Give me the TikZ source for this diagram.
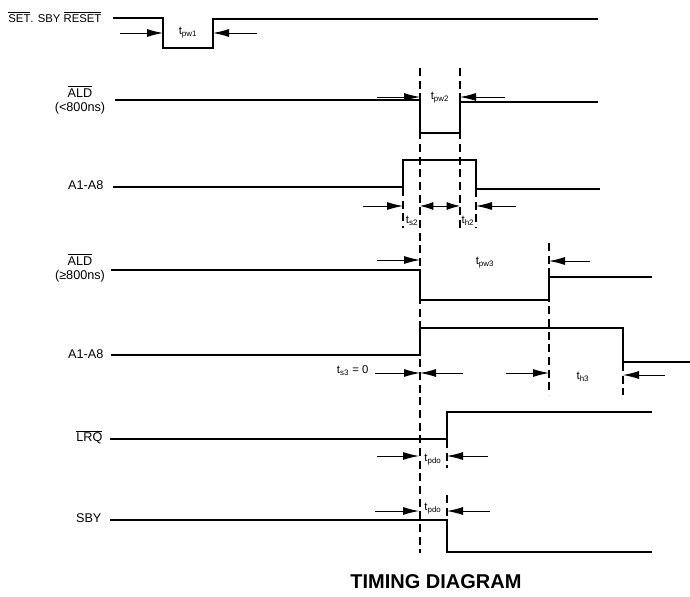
\documentclass[tikz,border=0pt]{standalone}
\usepackage{fontspec}
\setmainfont{Liberation Sans}
\usetikzlibrary{arrows.meta,positioning}
\newcommand\ovl[1]{$\overline{\mbox{#1}}$}

\begin{document}
\begin{tikzpicture}[x=0.75pt,y=-0.75pt,
% Signal style
		wave/.style={line width=1.4pt
							    , line join=miter},
		guide/.style={line width=1.3pt
							    , dash pattern=on 6pt off 3.5pt},
% Timing arrows
		timing/.style={line width=0.7pt
							    , -{Latex[length=12pt,width=6pt]}},
		twoway/.style={line width=0.7pt
							    , {Latex[length=10pt,width=6pt]}-{Latex[length=10pt,width=6pt]}},
% Labels
		sig/.style={font=\fontsize{9.5}{11}\selectfont
							    , align=center
							    , inner sep=1pt},
		tval/.style={font=\fontsize{8.5}{9}\selectfont
							    , inner sep=1pt},
		title/.style={font=\fontsize{15}{17}\selectfont\bfseries}
	]
	\useasboundingbox (0,0) rectangle (690,597);

%% Signal names
	\node [sig, anchor=east, font=\fontsize{8.5}{9}\selectfont] (sreset) at (103,17) {\ovl{SET}. SBY \ovl{RESET}};
	\node [sig] (ald1) at (80,100) {\ovl{ALD}\\(<800ns)};
	\node [sig, anchor=east] (addr1) at (105,185) {A1-A8};
	\node [sig] (ald2) at (80,268) {\ovl{ALD}\\(≥800ns)};
	\node [sig, anchor=east] (addr2) at (105,354) {A1-A8};
	\node [sig, anchor=east] (lrq) at (104,437) {\ovl{LRQ}};
	\node [sig, anchor=east] (sby) at (103,518) {SBY};

%% Waveforms
	\draw [wave] (113,18) -- (163,18) -- (163,48) -- (213,48) -- (213,19) -- (598,19);
	\draw [wave] (115,100) -- (420,100) -- (420,133) -- (460,133) -- (460,102) -- (598,102);
	\draw [wave] (113,187) -- (403,187) -- (403,160) -- (476,160) -- (476,189) -- (600,189);
	\draw [wave] (111,270) -- (420,270) -- (420,300) -- (549,300) -- (549,277) -- (652,277);
	\draw [wave] (111,355) -- (420,355) -- (420,328) -- (623,328) -- (623,362) -- (690,362);
	\draw [wave] (110,439) -- (447,439) -- (447,412) -- (652,412);
	\draw [wave] (110,520) -- (447,520) -- (447,552) -- (652,552);

%% Dashed reference lines
	\coordinate (e1t) at (420,68);   \coordinate (e1b) at (420,553);
	\coordinate (e2t) at (460,68);   \coordinate (e2b) at (460,228);
	\coordinate (e3t) at (403,188);  \coordinate (e3b) at (403,228);
	\coordinate (e4t) at (476,189);  \coordinate (e4b) at (476,228);
	\coordinate (e5t) at (549,243);  \coordinate (e5b) at (549,395);
	\coordinate (e6t) at (623,363);  \coordinate (e6b) at (623,395);
	\coordinate (e7t) at (447,440);  \coordinate (e7b) at (447,468);
	\coordinate (e8t) at (447,495);  \coordinate (e8b) at (447,521);
	\foreach \e in {1,...,8}
		\draw [guide] (e\e t) -- (e\e b);

%% Timing arrows and values
	\coordinate (pw1a) at (163,33);  \coordinate (pw1b) at (213,33);
	\draw [timing] (pw1a) ++(-43,0) -- (pw1a);
	\draw [timing] (pw1b) ++(44,0) -- (pw1b);
	\node [tval] (tpw1) at (188,33) {t\textsubscript{pw1}};

	\coordinate (pw2a) at (420,97);  \coordinate (pw2b) at (460,97);
	\draw [timing] (pw2a) ++(-43,0) -- (pw2a);
	\draw [timing] (pw2b) ++(45,0) -- (pw2b);
	\node [tval] (tpw2) at (440,98) {t\textsubscript{pw2}};

	\coordinate (s2a) at (403,206);  \coordinate (s2b) at (420,206);
	\coordinate (h2a) at (460,206);  \coordinate (h2b) at (476,206);
	\draw [timing] (s2a) ++(-40,0) -- (s2a);
	\draw [twoway] (s2b) -- (h2a);
	\draw [timing] (h2b) ++(40,0) -- (h2b);
	\node [tval] (ts2) at (412,221) {t\textsubscript{s2}};
	\node [tval] (th2) at (468,221) {t\textsubscript{h2}};

	\coordinate (pw3a) at (420,260); \coordinate (pw3b) at (549,261);
	\draw [timing] (pw3a) ++(-43,0) -- (pw3a);
	\draw [timing] (pw3b) ++(41,0) -- (pw3b);
	\node [tval] (tpw3) at (485,263) {t\textsubscript{pw3}};

	\coordinate (s3) at (420,373);
	\coordinate (h3a) at (549,373);  \coordinate (h3b) at (623,375);
	\draw [timing] (s3) ++(-45,0) -- (s3);
	\draw [timing] (s3) ++(43,0) -- (s3);
	\node [tval, anchor=east] (ts3) at (370,371) {t\textsubscript{s3} = 0};
	\draw [timing] (h3a) ++(-43,0) -- (h3a);
	\draw [timing] (h3b) ++(42,0) -- (h3b);
	\node [tval] (th3) at (583,377) {t\textsubscript{h3}};

	\coordinate (pd1a) at (419,456); \coordinate (pd1b) at (447,456);
	\draw [timing] (pd1a) ++(-42,0) -- (pd1a);
	\draw [timing] (pd1b) ++(41,0) -- (pd1b);
	\node [tval] (tpd1) at (433,460) {t\textsubscript{pdo}};

	\coordinate (pd2a) at (419,511); \coordinate (pd2b) at (447,511);
	\draw [timing] (pd2a) ++(-44,0) -- (pd2a);
	\draw [timing] (pd2b) ++(43,0) -- (pd2b);
	\node [tval] (tpd2) at (433,509) {t\textsubscript{pdo}};

%% Title
	\node [title] (diag) at (436,582) {TIMING DIAGRAM};
\end{tikzpicture}
\end{document}
